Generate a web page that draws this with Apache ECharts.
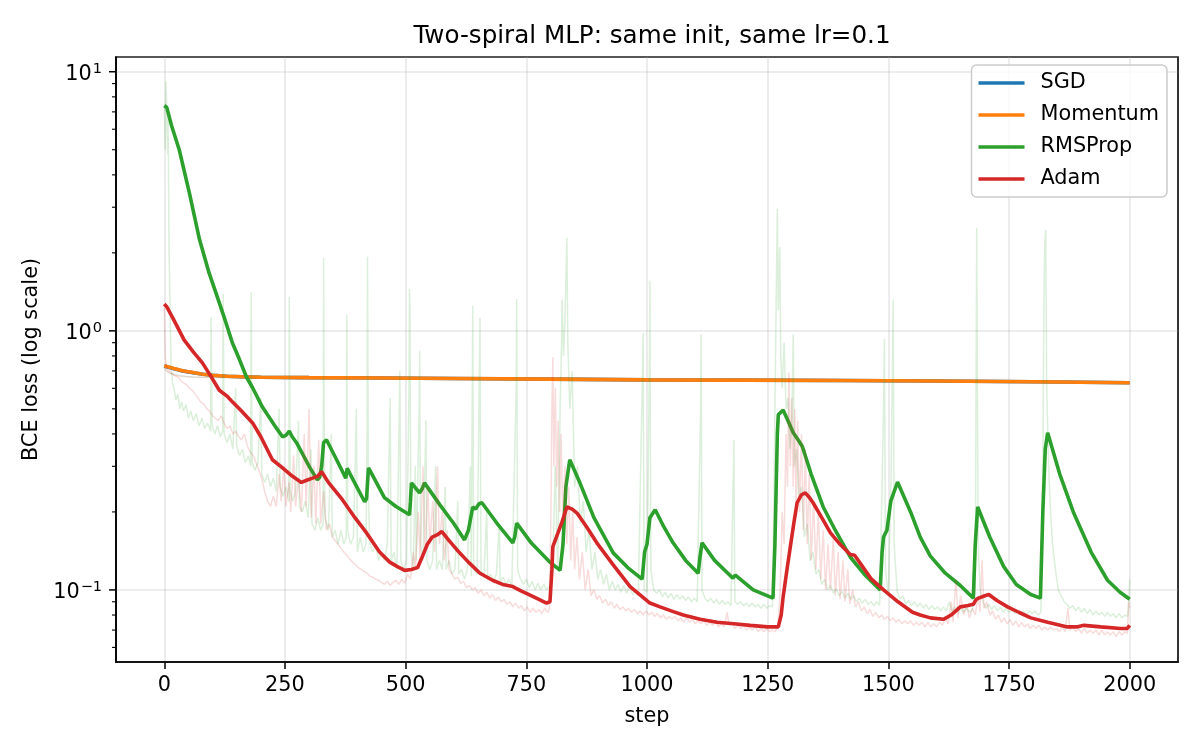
<!DOCTYPE html>
<html>
<head>
<meta charset="utf-8">
<script src="https://cdn.jsdelivr.net/npm/echarts@6/dist/echarts.min.js"></script>
<style>
  html, body { margin: 0; padding: 0; background: #fff; }
  #chart { width: 1200px; height: 750px; }
</style>
</head>
<body>
<div id="chart"></div>
<script>
// ---- data: [step, loss] pairs ----
var xTickValues = [0, 250, 500, 750, 1000, 1250, 1500, 1750, 2000];
var yMajorTicks = [0.1, 1, 10];
var yMinorTicks = [0.06, 0.07, 0.08, 0.09, 0.2, 0.3, 0.4, 0.5, 0.6, 0.7, 0.8, 0.9, 2, 3, 4, 5, 6, 7, 8, 9];
var legendNames = ['SGD', 'Momentum', 'RMSProp', 'Adam'];

var sgdSmooth = [[0,0.732],[20,0.714],[40,0.699],[60,0.689],[80,0.68],[100,0.674],[130,0.668],[160,0.665],[200,0.662],[300,0.66],[450,0.658],[600,0.655],[800,0.651],[1000,0.647],[1200,0.645],[1400,0.643],[1600,0.64],[1800,0.636],[2000,0.63]];
var momentumSmooth = [[0,0.733],[20,0.715],[40,0.7],[60,0.69],[80,0.68],[100,0.674],[130,0.668],[160,0.665],[200,0.662],[300,0.66],[450,0.658],[600,0.655],[800,0.651],[1000,0.647],[1200,0.645],[1400,0.643],[1600,0.64],[1800,0.636],[2000,0.63]];
var sgdRaw = [[0,0.725],[5,0.7],[10,0.69],[20,0.678],[30,0.672],[45,0.667],[60,0.664],[80,0.662],[120,0.66],[200,0.659],[300,0.657],[400,0.656],[500,0.655],[600,0.653],[700,0.651],[800,0.65],[900,0.648],[1000,0.646],[1100,0.645],[1200,0.644],[1300,0.642],[1400,0.641],[1500,0.639],[1600,0.638],[1700,0.636],[1800,0.634],[1900,0.632],[2000,0.628]];
var momentumRaw = [[0,0.722],[5,0.698],[10,0.688],[20,0.676],[30,0.67],[45,0.666],[60,0.663],[80,0.661],[120,0.66],[200,0.66],[300,0.657],[400,0.657],[450,0.665],[460,0.656],[600,0.653],[700,0.652],[800,0.65],[900,0.648],[1000,0.646],[1100,0.645],[1200,0.644],[1300,0.642],[1400,0.641],[1500,0.639],[1600,0.638],[1700,0.636],[1800,0.634],[1860,0.64],[1870,0.633],[2000,0.628]];

var rmspropSmooth = [[0,7.4],[5,7.3],[15,6.2],[31,5.0],[52,3.41],[73,2.25],[93,1.67],[110,1.35],[124,1.13],[141,0.9],[156,0.773],[170,0.665],[183,0.603],[203,0.509],[232,0.422],[245,0.39],[252,0.395],[259,0.41],[265,0.39],[274,0.37],[301,0.298],[317,0.266],[322,0.272],[326,0.3],[330,0.37],[336,0.38],[357,0.318],[376,0.27],[379,0.295],[385,0.28],[415,0.219],[419,0.225],[423,0.296],[428,0.285],[456,0.227],[480,0.21],[508,0.195],[510,0.22],[512,0.259],[520,0.248],[529,0.237],[534,0.245],[539,0.259],[571,0.213],[600,0.18],[622,0.156],[630,0.17],[639,0.209],[645,0.205],[652,0.215],[658,0.217],[690,0.18],[722,0.152],[726,0.16],[730,0.181],[760,0.152],[799,0.128],[820,0.119],[826,0.15],[832,0.25],[840,0.318],[861,0.259],[890,0.19],[930,0.139],[960,0.122],[990,0.11],[995,0.14],[1000,0.15],[1006,0.19],[1017,0.204],[1035,0.175],[1054,0.152],[1080,0.13],[1106,0.116],[1110,0.135],[1114,0.152],[1140,0.13],[1178,0.111],[1183,0.114],[1220,0.1],[1261,0.093],[1265,0.15],[1270,0.4],[1272,0.474],[1282,0.495],[1292,0.45],[1303,0.404],[1315,0.375],[1322,0.357],[1340,0.28],[1365,0.209],[1390,0.17],[1421,0.134],[1450,0.115],[1483,0.1],[1487,0.14],[1490,0.16],[1497,0.17],[1505,0.22],[1519,0.261],[1546,0.2],[1566,0.16],[1587,0.135],[1618,0.116],[1649,0.104],[1676,0.093],[1680,0.15],[1685,0.209],[1710,0.16],[1739,0.123],[1765,0.105],[1795,0.096],[1815,0.093],[1820,0.2],[1825,0.35],[1830,0.404],[1855,0.28],[1884,0.198],[1920,0.14],[1954,0.109],[1980,0.098],[2000,0.092]];

var adamSmooth = [[0,1.27],[5,1.24],[20,1.1],[41,0.923],[60,0.83],[79,0.752],[96,0.67],[114,0.59],[130,0.56],[141,0.532],[160,0.49],[183,0.441],[200,0.39],[224,0.318],[245,0.296],[265,0.275],[284,0.26],[295,0.265],[307,0.27],[318,0.275],[326,0.286],[340,0.26],[369,0.223],[395,0.19],[419,0.166],[446,0.14],[467,0.128],[483,0.123],[498,0.119],[512,0.12],[525,0.122],[535,0.135],[545,0.15],[555,0.16],[565,0.163],[575,0.168],[590,0.155],[606,0.143],[630,0.128],[654,0.116],[680,0.109],[701,0.105],[722,0.103],[740,0.099],[760,0.095],[792,0.089],[799,0.09],[803,0.12],[805,0.147],[815,0.165],[824,0.183],[834,0.209],[845,0.205],[855,0.198],[875,0.175],[896,0.152],[930,0.125],[965,0.103],[1006,0.089],[1027,0.086],[1050,0.083],[1075,0.08],[1110,0.077],[1145,0.075],[1180,0.074],[1214,0.073],[1250,0.072],[1272,0.072],[1278,0.08],[1282,0.094],[1290,0.12],[1297,0.147],[1304,0.18],[1311,0.217],[1320,0.233],[1328,0.237],[1336,0.228],[1344,0.217],[1362,0.19],[1380,0.166],[1400,0.15],[1421,0.137],[1430,0.136],[1440,0.128],[1465,0.11],[1490,0.1],[1520,0.09],[1550,0.082],[1566,0.08],[1587,0.078],[1614,0.077],[1630,0.08],[1649,0.086],[1665,0.087],[1676,0.088],[1682,0.092],[1687,0.093],[1700,0.095],[1708,0.096],[1725,0.091],[1747,0.086],[1770,0.082],[1795,0.078],[1830,0.075],[1871,0.072],[1890,0.072],[1905,0.073],[1940,0.072],[1981,0.071],[1995,0.071],[2000,0.073]];

var rmspropRaw = [[0,7.4],[2,5.0],[3,9.2],[5,7.5],[7,4.8],[8,6.5],[10,2.0],[12,1.2],[14,0.75],[17,0.63],[20,0.6],[24,0.54],[28,0.57],[32,0.5],[36,0.53],[40,0.49],[45,0.52],[50,0.46],[55,0.49],[60,0.45],[66,0.48],[72,0.43],[78,0.46],[84,0.42],[90,0.44],[96,0.41],[97,1.13],[99,0.43],[105,0.4],[110,0.43],[116,0.39],[121,0.41],[122,1.39],[124,0.4],[130,0.37],[136,0.4],[142,0.35],[148,0.6],[150,0.36],[156,0.33],[162,0.35],[168,0.31],[174,0.33],[179,0.3],[180,1.41],[182,0.31],[188,0.29],[194,0.31],[200,0.55],[202,0.28],[208,0.26],[214,0.28],[220,0.25],[226,0.27],[232,0.24],[238,0.5],[240,0.25],[246,0.23],[252,0.25],[258,0.22],[259,1.35],[261,0.24],[266,0.22],[272,0.24],[278,0.45],[280,0.21],[286,0.2],[292,0.22],[298,0.19],[304,0.35],[306,0.18],[312,0.17],[318,0.19],[324,0.17],[329,0.18],[330,1.91],[331,0.5],[333,0.19],[340,0.17],[346,0.4],[348,0.16],[354,0.17],[360,0.15],[366,0.17],[372,0.15],[377,0.16],[378,1.15],[380,0.17],[386,0.15],[392,0.16],[398,0.5],[400,0.14],[406,0.16],[412,0.14],[418,0.15],[420,0.4],[421,1.93],[423,0.22],[426,0.15],[432,0.14],[438,0.15],[444,0.13],[450,0.14],[456,0.13],[462,0.15],[468,0.55],[470,0.13],[476,0.14],[482,0.12],[488,0.7],[490,0.13],[496,0.12],[502,0.13],[507,0.6],[508,1.45],[509,1.2],[511,0.14],[516,0.12],[520,0.3],[522,0.13],[528,0.5],[529,0.84],[531,0.15],[536,0.13],[542,0.45],[544,0.13],[550,0.12],[556,0.13],[562,0.3],[564,0.12],[570,0.13],[576,0.12],[582,0.25],[584,0.12],[590,0.13],[596,0.115],[602,0.12],[608,0.22],[610,0.115],[616,0.12],[622,0.11],[628,0.12],[634,0.3],[636,0.113],[639,1.25],[641,0.12],[648,0.115],[654,1.12],[656,0.12],[662,0.112],[668,0.2],[670,0.11],[676,0.115],[682,0.108],[688,0.115],[694,0.18],[696,0.108],[702,0.112],[708,0.105],[714,0.11],[720,0.104],[729,0.6],[730,1.33],[732,0.12],[738,0.11],[744,0.105],[750,0.11],[756,0.102],[762,0.108],[768,0.1],[774,0.106],[780,0.1],[786,0.105],[792,0.1],[798,0.104],[804,0.11],[810,0.3],[815,0.12],[820,0.5],[823,0.9],[824,1.32],[827,0.8],[830,1.1],[834,2.28],[836,0.9],[840,0.5],[845,0.7],[850,0.25],[856,0.3],[862,0.18],[868,0.22],[874,0.14],[880,0.17],[886,0.12],[892,0.14],[898,0.11],[904,0.12],[910,0.105],[916,0.115],[922,0.1],[928,0.108],[934,0.1],[940,0.105],[946,0.098],[952,0.104],[958,0.097],[964,0.103],[970,0.096],[976,0.1],[982,0.095],[990,0.6],[992,0.98],[994,0.1],[1000,0.098],[1005,0.8],[1006,1.56],[1008,0.12],[1014,0.1],[1020,0.097],[1026,0.1],[1032,0.094],[1038,0.098],[1044,0.093],[1050,0.097],[1056,0.092],[1062,0.096],[1068,0.092],[1074,0.095],[1080,0.091],[1086,0.094],[1092,0.09],[1098,0.093],[1104,0.09],[1111,0.5],[1112,0.97],[1114,0.1],[1120,0.093],[1126,0.09],[1132,0.093],[1138,0.089],[1144,0.092],[1150,0.088],[1156,0.091],[1162,0.088],[1168,0.09],[1174,0.087],[1180,0.38],[1182,0.09],[1188,0.088],[1194,0.09],[1200,0.087],[1206,0.089],[1212,0.086],[1218,0.089],[1224,0.086],[1230,0.088],[1236,0.085],[1242,0.088],[1248,0.085],[1254,0.087],[1260,0.086],[1265,0.5],[1268,1.5],[1270,2.96],[1272,1.2],[1275,2.1],[1277,0.8],[1280,0.6],[1284,0.9],[1288,0.5],[1292,0.55],[1296,0.35],[1300,0.45],[1303,0.97],[1305,0.3],[1310,0.35],[1315,0.22],[1320,0.25],[1326,0.16],[1332,0.18],[1338,0.13],[1344,0.14],[1350,0.115],[1356,0.12],[1362,0.105],[1368,0.11],[1374,0.1],[1380,0.104],[1386,0.097],[1392,0.101],[1398,0.095],[1404,0.099],[1410,0.093],[1416,0.097],[1422,0.092],[1428,0.095],[1434,0.09],[1440,0.093],[1446,0.089],[1452,0.092],[1458,0.088],[1464,0.09],[1470,0.087],[1476,0.09],[1482,0.087],[1490,0.5],[1492,0.93],[1494,0.12],[1500,0.095],[1506,0.3],[1510,1.32],[1512,0.15],[1518,0.1],[1524,0.092],[1530,0.095],[1536,0.088],[1542,0.091],[1548,0.087],[1554,0.09],[1560,0.086],[1566,0.089],[1572,0.085],[1578,0.088],[1584,0.084],[1590,0.087],[1596,0.084],[1602,0.086],[1608,0.083],[1614,0.086],[1620,0.083],[1626,0.09],[1632,0.083],[1638,0.086],[1644,0.082],[1650,0.085],[1656,0.082],[1662,0.085],[1668,0.082],[1674,0.084],[1680,0.1],[1683,2.5],[1686,0.15],[1690,0.1],[1696,0.09],[1702,0.085],[1708,0.088],[1714,0.084],[1720,0.087],[1726,0.083],[1732,0.086],[1738,0.082],[1744,0.085],[1750,0.082],[1756,0.084],[1762,0.081],[1768,0.084],[1774,0.081],[1780,0.083],[1786,0.08],[1792,0.083],[1798,0.081],[1804,0.083],[1810,0.08],[1816,0.082],[1820,0.3],[1822,1.15],[1824,2.19],[1826,2.45],[1828,0.6],[1832,0.3],[1836,0.2],[1840,0.15],[1846,0.12],[1852,0.1],[1858,0.095],[1864,0.09],[1870,0.088],[1876,0.085],[1882,0.087],[1888,0.083],[1894,0.086],[1900,0.082],[1906,0.085],[1912,0.081],[1918,0.084],[1924,0.08],[1930,0.083],[1936,0.08],[1942,0.082],[1948,0.079],[1954,0.082],[1960,0.079],[1966,0.081],[1972,0.078],[1978,0.081],[1984,0.078],[1990,0.08],[1996,0.079],[2000,0.11]];

var adamRaw = [[0,1.27],[1,0.95],[2,0.8],[4,0.74],[7,0.71],[10,0.7],[14,0.69],[18,0.68],[22,0.67],[26,0.665],[30,0.66],[35,0.64],[40,0.63],[46,0.62],[52,0.6],[58,0.59],[64,0.57],[70,0.55],[76,0.53],[82,0.52],[88,0.5],[94,0.49],[100,0.47],[106,0.46],[112,0.45],[118,0.47],[124,0.44],[130,0.42],[136,0.43],[142,0.4],[148,0.41],[154,0.39],[160,0.38],[166,0.4],[172,0.36],[178,0.34],[184,0.33],[190,0.31],[196,0.29],[202,0.27],[208,0.24],[214,0.22],[220,0.21],[226,0.23],[232,0.21],[238,0.28],[242,0.22],[248,0.3],[252,0.21],[258,0.26],[262,0.2],[268,0.33],[272,0.21],[278,0.27],[284,0.2],[290,0.4],[294,0.21],[300,0.5],[304,0.19],[310,0.3],[314,0.18],[320,0.38],[324,0.18],[330,0.24],[336,0.17],[342,0.18],[348,0.16],[354,0.155],[360,0.15],[366,0.145],[372,0.14],[378,0.136],[384,0.132],[390,0.128],[396,0.125],[402,0.122],[408,0.12],[414,0.118],[420,0.116],[426,0.113],[432,0.112],[438,0.11],[444,0.109],[450,0.107],[456,0.105],[462,0.108],[468,0.104],[474,0.107],[480,0.109],[486,0.105],[492,0.11],[498,0.106],[504,0.115],[510,0.11],[516,0.14],[520,0.12],[526,0.2],[530,0.13],[536,0.3],[540,0.14],[546,0.25],[550,0.15],[556,0.22],[560,0.14],[566,0.3],[570,0.15],[576,0.2],[580,0.13],[586,0.17],[590,0.12],[596,0.115],[602,0.11],[608,0.112],[614,0.106],[620,0.108],[626,0.102],[632,0.104],[638,0.1],[644,0.102],[650,0.097],[656,0.1],[662,0.095],[668,0.098],[674,0.093],[680,0.096],[686,0.091],[692,0.094],[698,0.09],[704,0.092],[710,0.088],[716,0.09],[722,0.086],[728,0.089],[734,0.085],[740,0.087],[746,0.083],[752,0.086],[758,0.082],[764,0.085],[770,0.082],[776,0.084],[782,0.081],[788,0.085],[794,0.082],[798,0.084],[801,0.2],[803,0.5],[805,0.79],[807,0.3],[810,0.6],[813,0.25],[816,0.45],[819,0.2],[822,0.4],[826,0.18],[830,0.3],[834,0.15],[838,0.25],[842,0.13],[846,0.2],[850,0.12],[855,0.16],[860,0.11],[866,0.14],[872,0.1],[878,0.12],[884,0.095],[890,0.1],[896,0.092],[902,0.095],[908,0.089],[914,0.092],[920,0.087],[926,0.09],[932,0.085],[938,0.088],[944,0.084],[950,0.086],[956,0.083],[962,0.085],[968,0.082],[974,0.084],[980,0.081],[986,0.083],[992,0.08],[998,0.083],[1004,0.08],[1010,0.082],[1016,0.079],[1022,0.081],[1028,0.078],[1034,0.08],[1040,0.077],[1046,0.079],[1052,0.077],[1058,0.079],[1064,0.076],[1070,0.078],[1076,0.075],[1082,0.078],[1088,0.075],[1094,0.077],[1100,0.074],[1106,0.076],[1112,0.074],[1118,0.076],[1124,0.073],[1130,0.075],[1136,0.073],[1142,0.076],[1148,0.072],[1154,0.074],[1160,0.072],[1166,0.082],[1170,0.073],[1176,0.074],[1182,0.071],[1188,0.073],[1194,0.071],[1200,0.073],[1206,0.07],[1212,0.072],[1218,0.07],[1224,0.072],[1230,0.069],[1236,0.071],[1242,0.069],[1248,0.071],[1254,0.069],[1260,0.07],[1266,0.069],[1272,0.075],[1276,0.1],[1280,0.2],[1284,0.15],[1288,0.4],[1291,0.25],[1294,0.69],[1297,0.3],[1300,0.55],[1303,0.25],[1306,0.5],[1309,0.2],[1312,0.45],[1316,0.2],[1320,0.4],[1324,0.17],[1328,0.35],[1332,0.15],[1336,0.28],[1340,0.13],[1345,0.22],[1350,0.12],[1355,0.2],[1360,0.11],[1365,0.17],[1370,0.1],[1375,0.15],[1380,0.1],[1386,0.16],[1390,0.095],[1396,0.14],[1400,0.092],[1406,0.13],[1410,0.09],[1416,0.12],[1420,0.088],[1426,0.1],[1432,0.086],[1438,0.09],[1444,0.083],[1450,0.086],[1456,0.081],[1462,0.084],[1468,0.079],[1474,0.082],[1480,0.078],[1486,0.08],[1492,0.077],[1498,0.079],[1504,0.076],[1510,0.078],[1516,0.075],[1522,0.077],[1528,0.074],[1534,0.076],[1540,0.074],[1546,0.076],[1552,0.073],[1558,0.075],[1564,0.073],[1570,0.075],[1576,0.072],[1582,0.075],[1588,0.072],[1594,0.074],[1600,0.072],[1606,0.075],[1612,0.073],[1618,0.078],[1624,0.074],[1630,0.09],[1634,0.075],[1640,0.11],[1644,0.078],[1650,0.095],[1656,0.08],[1662,0.088],[1668,0.078],[1674,0.085],[1680,0.08],[1686,0.095],[1690,0.082],[1694,0.13],[1698,0.085],[1704,0.09],[1710,0.08],[1716,0.083],[1722,0.077],[1728,0.08],[1734,0.075],[1740,0.078],[1746,0.074],[1752,0.077],[1758,0.073],[1764,0.076],[1770,0.072],[1776,0.075],[1782,0.072],[1788,0.074],[1794,0.071],[1800,0.073],[1806,0.071],[1812,0.073],[1818,0.07],[1824,0.072],[1830,0.07],[1836,0.072],[1842,0.07],[1848,0.071],[1854,0.069],[1860,0.072],[1866,0.069],[1872,0.085],[1876,0.07],[1882,0.072],[1888,0.069],[1894,0.071],[1900,0.068],[1906,0.071],[1912,0.068],[1918,0.07],[1924,0.068],[1930,0.07],[1936,0.067],[1942,0.07],[1948,0.067],[1954,0.069],[1960,0.067],[1966,0.069],[1972,0.066],[1978,0.069],[1984,0.067],[1990,0.069],[1995,0.068],[1998,0.09],[2000,0.085]];

(function() {
  var font = 'DejaVu Sans';
  var ink = '#000000';
  var gridColor = 'rgba(176,176,176,0.3)';
  var blue = '#1f77b4', orange = '#ff7f0e', green = '#2ca02c', red = '#d62728';
  var xMin = -100, xMax = 2100;
  var yMin = 0.0527, yMax = 11.4;

  function rawSeries(name, color, data) {
    return {
      name: name, type: 'line', data: data,
      showSymbol: false, silent: true,
      lineStyle: { color: color, width: 1.5, opacity: 0.17 },
      itemStyle: { color: color }
    };
  }
  function smoothSeries(name, color, data) {
    return {
      name: name, type: 'line', data: data,
      showSymbol: false,
      lineStyle: { color: color, width: 3.6 },
      itemStyle: { color: color }
    };
  }

  // y ticks (major + minor) drawn on the left spine through the axis scale
  var yTickData = yMajorTicks.map(function(v) { return [xMin, v, 7]; })
    .concat(yMinorTicks.map(function(v) { return [xMin, v, 4]; }));

  var chart = echarts.init(document.getElementById('chart'), null, { renderer: 'canvas' });
  chart.setOption({
    animation: false,
    backgroundColor: '#ffffff',
    textStyle: { fontFamily: font },
    title: {
      text: 'Two-spiral MLP: same init, same lr=0.1',
      left: 647,
      textAlign: 'center',
      top: 19,
      textStyle: { fontFamily: font, fontSize: 24.6, fontWeight: 'normal', color: ink }
    },
    legend: {
      data: legendNames,
      orient: 'vertical',
      right: 33,
      top: 65,
      icon: 'rect',
      itemWidth: 46,
      itemHeight: 3.5,
      itemGap: 8,
      padding: [6, 8, 6, 7],
      backgroundColor: 'rgba(255,255,255,0.8)',
      borderColor: '#cccccc',
      borderWidth: 1.5,
      borderRadius: 5,
      textStyle: { fontFamily: font, fontSize: 20.8, color: ink, lineHeight: 24, padding: [0, 0, 0, 11] }
    },
    grid: {
      left: 116, right: 22, top: 57, bottom: 88,
      show: true, borderColor: ink, borderWidth: 1.6, backgroundColor: 'transparent'
    },
    xAxis: {
      type: 'value',
      min: xMin, max: xMax,
      name: 'step',
      nameLocation: 'middle',
      nameGap: 44,
      nameTextStyle: { fontFamily: font, fontSize: 20.8, color: ink },
      axisLine: { show: true, onZero: false, lineStyle: { color: ink, width: 1.6 } },
      axisTick: { show: true, inside: false, length: 7, customValues: xTickValues, lineStyle: { color: ink, width: 1.5 } },
      axisLabel: {
        customValues: xTickValues, margin: 13, fontFamily: font, fontSize: 20.8, color: ink,
        formatter: function(v) { return String(v); }
      },
      splitLine: { show: true, customValues: xTickValues, lineStyle: { color: gridColor, width: 1.6 } }
    },
    yAxis: {
      type: 'log',
      logBase: 10,
      min: yMin, max: yMax,
      name: 'BCE loss (log scale)',
      nameLocation: 'middle',
      nameGap: 69,
      nameTextStyle: { fontFamily: font, fontSize: 20.8, color: ink },
      axisLine: { show: true, onZero: false, lineStyle: { color: ink, width: 1.6 } },
      axisTick: { show: false },
      axisLabel: {
        margin: 14,
        showMinLabel: false,
        showMaxLabel: false,
        formatter: function(v) {
          var e = Math.log(v) / Math.LN10;
          var r = Math.round(e);
          if (Math.abs(e - r) > 1e-6) return '';
          var s = r < 0 ? '\u2212' + (-r) : String(r);
          return '{b|10}{s|' + s + '}';
        },
        rich: {
          b: { fontFamily: font, fontSize: 20.8, color: ink, lineHeight: 20, padding: [6, 0, 0, 0] },
          s: { fontFamily: font, fontSize: 14.5, color: ink, lineHeight: 14, padding: [0, 0, 6, 1] }
        }
      },
      splitLine: { show: true, lineStyle: { color: gridColor, width: 1.6 } }
    },
    series: [
      rawSeries('SGD raw', blue, sgdRaw),
      smoothSeries('SGD', blue, sgdSmooth),
      rawSeries('Momentum raw', orange, momentumRaw),
      smoothSeries('Momentum', orange, momentumSmooth),
      rawSeries('RMSProp raw', green, rmspropRaw),
      smoothSeries('RMSProp', green, rmspropSmooth),
      rawSeries('Adam raw', red, adamRaw),
      smoothSeries('Adam', red, adamSmooth),
      {
        name: 'yticks',
        type: 'custom',
        silent: true,
        clip: false,
        data: yTickData,
        encode: { x: 0, y: 1 },
        renderItem: function(params, api) {
          var p = api.coord([api.value(0), api.value(1)]);
          var len = api.value(2);
          return {
            type: 'line',
            shape: { x1: p[0] - len, y1: p[1], x2: p[0], y2: p[1] },
            style: { stroke: ink, lineWidth: len > 5 ? 1.5 : 1.1 }
          };
        }
      }
    ]
  });
  window.addEventListener('resize', function() { chart.resize(); });
})();
</script>
</body>
</html>
